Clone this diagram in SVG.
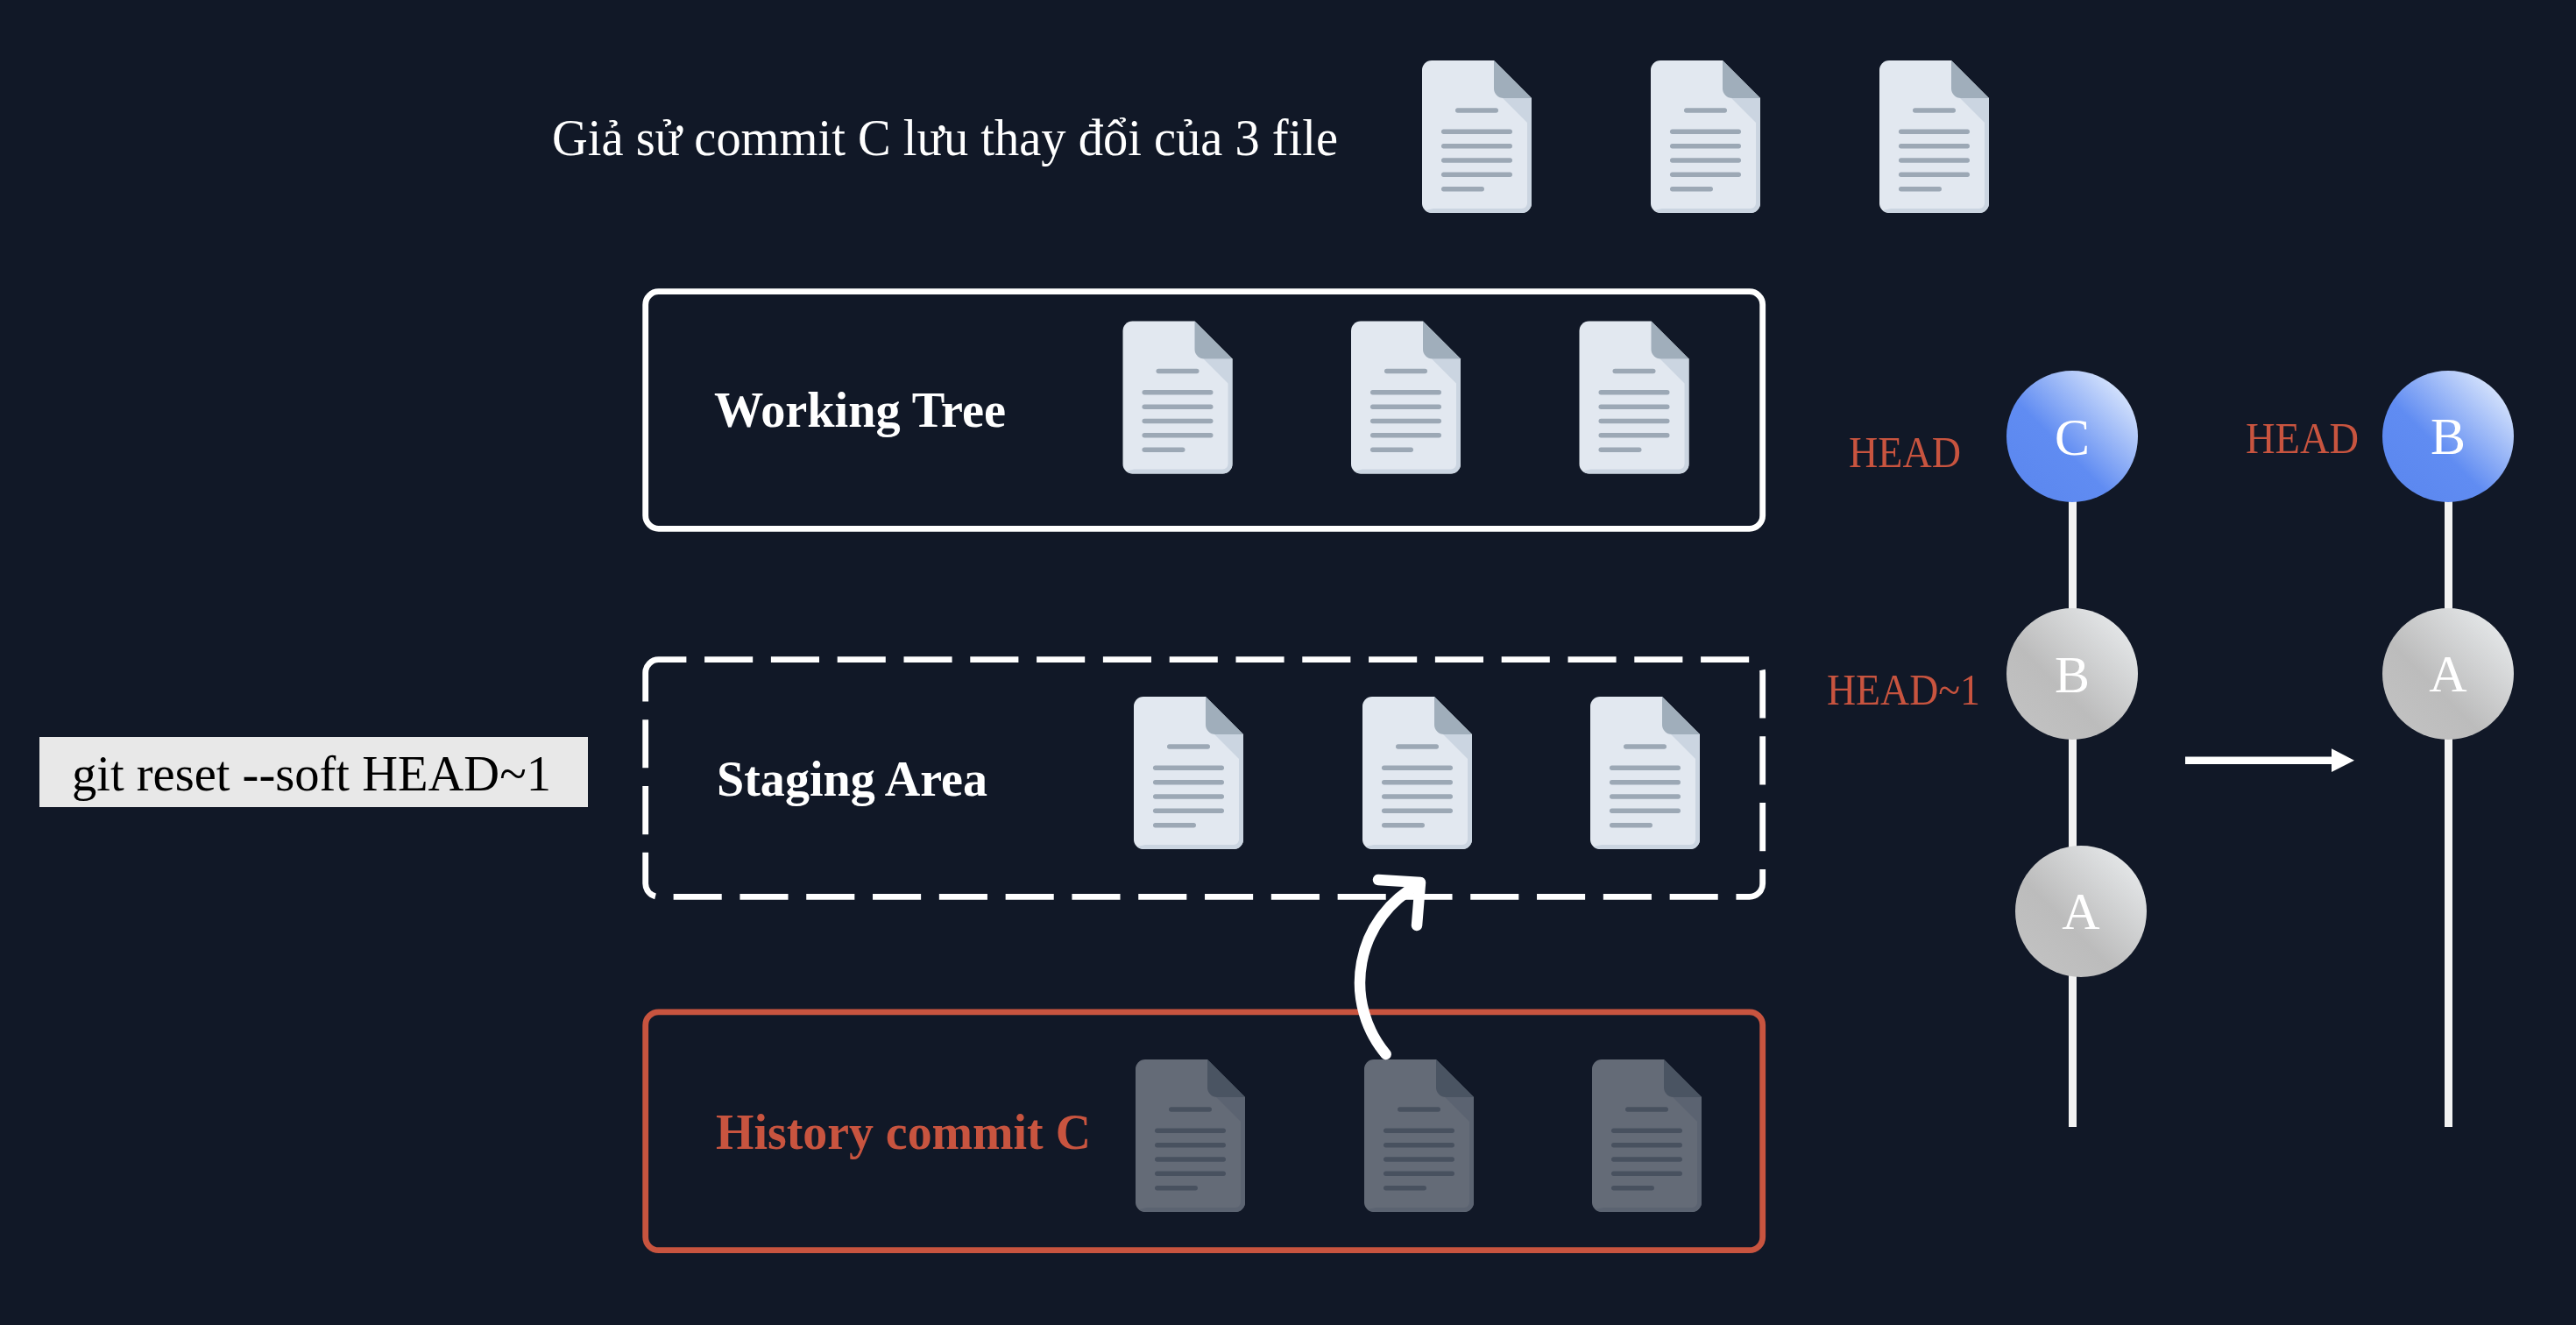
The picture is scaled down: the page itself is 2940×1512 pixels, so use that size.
<svg xmlns="http://www.w3.org/2000/svg" width="2940" height="1512" viewBox="0 0 2940 1512">
<style>
text{font-family:"Liberation Serif",serif}
.ln{fill:#9ca8b5}
.t{fill:#fff;font-size:60px}
.b{fill:#fff;font-size:58px;font-weight:700}
.h{fill:#c8543f;font-size:51px}
.n{fill:#fff;font-size:60px;text-anchor:middle}
.box{fill:none;stroke-width:6.8}
.rail{stroke:#f2f2f2;stroke-width:9;fill:none}
</style>
<defs>
<linearGradient id="blue" x1="1" y1="0" x2="0" y2="1"><stop offset="0" stop-color="#f6fbff"/><stop offset=".58" stop-color="#608cf2"/><stop offset="1" stop-color="#5a86ee"/></linearGradient>
<linearGradient id="gray" x1="1" y1="0" x2="0" y2="1"><stop offset="0" stop-color="#eef1f3"/><stop offset=".6" stop-color="#bcbcbc"/><stop offset="1" stop-color="#c4c4c4"/></linearGradient>
<g id="file">
<path d="M11 0H82L125 43V163A11 11 0 0 1 114 174H11A11 11 0 0 1 0 163V11A11 11 0 0 1 11 0Z" fill="#e2e8f0"/>
<path d="M125 43V163A11 11 0 0 1 114 174H11A11 11 0 0 1 4 171L13 169H114A6 6 0 0 0 120 163V71L92 43Z" fill="#cbd5e1"/>
<path d="M82 0L125 43H93A11 11 0 0 1 82 32Z" fill="#a0aebb"/>
<rect class="ln" x="38" y="54.3" width="49" height="5.4" rx="2.7"/>
<rect class="ln" x="22" y="78.6" width="81" height="5.4" rx="2.7"/>
<rect class="ln" x="22" y="95" width="81" height="5.4" rx="2.7"/>
<rect class="ln" x="22" y="111.3" width="81" height="5.4" rx="2.7"/>
<rect class="ln" x="22" y="127.6" width="81" height="5.4" rx="2.7"/>
<rect class="ln" x="22" y="144" width="49" height="5.4" rx="2.7"/>
</g>
</defs>
<rect width="2940" height="1512" fill="#111827"/>
<g id="intro">
<text class="t" x="630" y="177" textLength="897" lengthAdjust="spacingAndGlyphs">Giả sử commit C lưu thay đổi của 3 file</text>
<use href="#file" x="1623" y="69"/><use href="#file" x="1884" y="69"/><use href="#file" x="2145" y="69"/>
</g>
<g id="working-tree">
<rect class="box" x="736.7" y="332.7" width="1275" height="270.6" rx="15" stroke="#fff"/>
<text class="b" x="815" y="487" textLength="333" lengthAdjust="spacingAndGlyphs">Working Tree</text>
<use href="#file" x="1281.5" y="366.5"/><use href="#file" x="1542" y="366.5"/><use href="#file" x="1802.5" y="366.5"/>
</g>
<g id="staging-area">
<path class="box" stroke="#fff" stroke-dasharray="55.1 20.7" d="M736.7 767.7A15 15 0 0 1 751.7 752.7H1996.7A15 15 0 0 1 2011.7 767.7V1008.3A15 15 0 0 1 1996.7 1023.3H751.7A15 15 0 0 1 736.7 1008.3Z"/>
<text class="b" x="818" y="908" textLength="309" lengthAdjust="spacingAndGlyphs">Staging Area</text>
<use href="#file" x="1294" y="795"/><use href="#file" x="1555" y="795"/><use href="#file" x="1815" y="795"/>
</g>
<g id="history-commit">
<rect class="box" x="736.7" y="1154.8" width="1275" height="271.9" rx="15" stroke="#c8543f"/>
<text class="b" x="817" y="1311" textLength="428" lengthAdjust="spacingAndGlyphs" style="fill:#c8543f">History commit C</text>
<g opacity=".4"><use href="#file" x="1296" y="1209"/><use href="#file" x="1557" y="1209"/><use href="#file" x="1817" y="1209"/></g>
</g>
<g id="command">
<rect x="45" y="841" width="626" height="80" fill="#e8e8e8"/>
<text x="82" y="902" font-size="57" fill="#000" textLength="547" lengthAdjust="spacingAndGlyphs">git reset --soft HEAD~1</text>
</g>
<g id="connectors">
<path class="rail" d="M2365.5 498V1286"/>
<path class="rail" d="M2794.5 498V1286"/>
<path d="M1581.7 1203A127 127 0 0 1 1618 1010" fill="none" stroke="#fff" stroke-width="12.5" stroke-linecap="round"/>
<path d="M1573 1004L1621 1007L1617 1056" fill="none" stroke="#fff" stroke-width="12.5" stroke-linecap="round" stroke-linejoin="round"/>
<path d="M2494 867.7H2663" stroke="#fff" stroke-width="8.5" fill="none"/>
<polygon points="2661,854.3 2687,867.7 2661,881" fill="#fff"/>
</g>
<g id="commit-c"><circle cx="2365" cy="498" r="75" fill="url(#blue)"/><text class="n" x="2365" y="519">C</text></g>
<g id="commit-b"><circle cx="2365" cy="769" r="75" fill="url(#gray)"/><text class="n" x="2365" y="790">B</text></g>
<g id="commit-a"><circle cx="2375" cy="1040" r="75" fill="url(#gray)"/><text class="n" x="2375" y="1060">A</text></g>
<g id="commit-b2"><circle cx="2794" cy="498" r="75" fill="url(#blue)"/><text class="n" x="2794" y="518">B</text></g>
<g id="commit-a2"><circle cx="2794" cy="769" r="75" fill="url(#gray)"/><text class="n" x="2794" y="789">A</text></g>
<g id="labels">
<text class="h" x="2110" y="533" textLength="128" lengthAdjust="spacingAndGlyphs">HEAD</text>
<text class="h" x="2085" y="804" textLength="175" lengthAdjust="spacingAndGlyphs">HEAD~1</text>
<text class="h" x="2563" y="517" textLength="129" lengthAdjust="spacingAndGlyphs">HEAD</text>
</g>
</svg>
